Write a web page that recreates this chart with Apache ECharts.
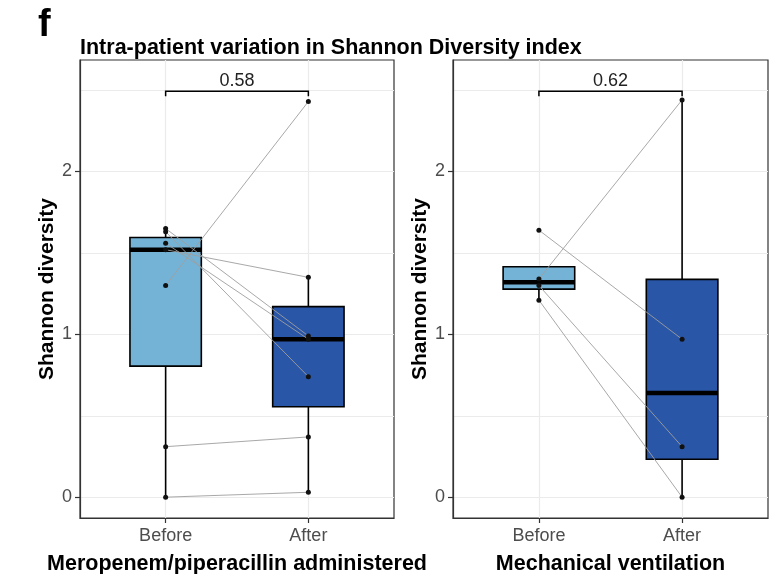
<!DOCTYPE html>
<html>
<head>
<meta charset="utf-8">
<script src="https://cdn.jsdelivr.net/npm/echarts@6.0.0/dist/echarts.min.js"></script>
<style>
  html, body { margin: 0; padding: 0; background: #fff; }
  #chart { width: 780px; height: 574px; }
</style>
</head>
<body>
<div id="chart"></div>
<script>
// data
var groups = ['Before', 'After'];
var panelTitles = ['Meropenem/piperacillin administered', 'Mechanical ventilation'];
var pValues = ['0.58', '0.62'];
var yTicks = [0, 1, 2];
var gridTicks = [0, 0.5, 1, 1.5, 2, 2.5];

// paired samples, same order = same patient
var meroBefore = [1.65, 1.63, 1.56, 1.52, 1.30, 0.31, 0.00];
var meroAfter  = [0.99, 0.74, 0.97, 1.35, 2.43, 0.37, 0.03];
var ventBefore = [1.64, 1.34, 1.30, 1.21];
var ventAfter  = [0.97, 2.44, 0.31, 0.00];

var FONT = '"Liberation Sans", Arial, sans-serif';
var boxColors = ['#74b3d6', '#2a56a8'];

// quantile like R type 7
function quant(sorted, p) {
    var h = (sorted.length - 1) * p;
    var lo = Math.floor(h);
    var hi = Math.ceil(h);
    return sorted[lo] + (h - lo) * (sorted[hi] - sorted[lo]);
}

// [x, lowWhisker, q1, median, q3, highWhisker] like geom_boxplot
function boxStats(values, x) {
    var s = values.slice().sort(function (a, b) { return a - b; });
    var q1 = quant(s, 0.25), med = quant(s, 0.5), q3 = quant(s, 0.75);
    var iqr = q3 - q1;
    var inside = s.filter(function (v) { return v >= q1 - 1.5 * iqr && v <= q3 + 1.5 * iqr; });
    return [x, inside[0], q1, med, q3, inside[inside.length - 1]];
}

var panels = [
    { before: meroBefore, after: meroAfter },
    { before: ventBefore, after: ventAfter }
];

var gridPos = [
    { left: 80, top: 60, width: 314, height: 458 },
    { left: 453, top: 60, width: 315, height: 458 }
];

var chart = echarts.init(document.getElementById('chart'));

var grids = [], xAxes = [], yAxes = [], series = [];

panels.forEach(function (p, i) {
    grids.push({
        left: gridPos[i].left, top: gridPos[i].top,
        width: gridPos[i].width, height: gridPos[i].height,
        containLabel: false,
        outerBoundsMode: 'none',
        show: true, borderColor: '#333', borderWidth: 1.2, backgroundColor: '#fff'
    });
    xAxes.push({
        gridIndex: i,
        type: 'value',
        min: -0.6, max: 1.6,
        splitLine: { show: false },
        axisLine: { show: true, onZero: false, lineStyle: { color: '#333', width: 1.2 } },
        axisTick: { show: true, customValues: [0, 1], length: 5, lineStyle: { color: '#333', width: 1.2 } },
        axisLabel: {
            customValues: [0, 1],
            formatter: function (v) { return groups[Math.round(v)]; },
            color: '#4d4d4d', fontSize: 18, fontFamily: FONT, margin: 9
        },
        name: panelTitles[i],
        nameLocation: 'middle',
        nameGap: 35,
        nameTextStyle: { color: '#000', fontSize: 21.5, fontWeight: 'bold', fontFamily: FONT }
    });
    yAxes.push({
        gridIndex: i,
        type: 'value',
        min: -0.128, max: 2.685,
        splitLine: { show: false },
        axisLine: { show: true, onZero: false, lineStyle: { color: '#333', width: 1.2 } },
        axisTick: { show: true, customValues: yTicks, length: 5, lineStyle: { color: '#333', width: 1.2 } },
        axisLabel: {
            customValues: yTicks,
            color: '#4d4d4d', fontSize: 18, fontFamily: FONT, margin: 8
        },
        name: 'Shannon diversity',
        nameLocation: 'middle',
        nameGap: 22,
        nameTextStyle: { color: '#000', fontSize: 21, fontWeight: 'bold', fontFamily: FONT }
    });

    // boxes
    series.push({
        type: 'custom',
        xAxisIndex: i, yAxisIndex: i,
        z: 2,
        data: [boxStats(p.before, 0), boxStats(p.after, 1)],
        markLine: {
            silent: true, symbol: 'none', z: 0,
            label: { show: false },
            lineStyle: { color: '#ebebeb', type: 'solid', width: 1.2 },
            data: gridTicks.map(function (v) { return { yAxis: v }; })
                .concat([{ xAxis: 0 }, { xAxis: 1 }])
        },
        renderItem: function (params, api) {
            var x = api.value(0);
            var lo = api.coord([x, api.value(1)]);
            var q1 = api.coord([x, api.value(2)]);
            var md = api.coord([x, api.value(3)]);
            var q3 = api.coord([x, api.value(4)]);
            var hi = api.coord([x, api.value(5)]);
            var half = api.size([0.5, 0])[0] / 2;
            var cx = q1[0];
            return {
                type: 'group',
                children: [
                    { type: 'line', shape: { x1: cx, y1: lo[1], x2: cx, y2: q1[1] },
                      style: { stroke: '#000', lineWidth: 1.6 } },
                    { type: 'line', shape: { x1: cx, y1: q3[1], x2: cx, y2: hi[1] },
                      style: { stroke: '#000', lineWidth: 1.6 } },
                    { type: 'rect', shape: { x: cx - half, y: q3[1], width: half * 2, height: q1[1] - q3[1] },
                      style: { fill: boxColors[params.dataIndex], stroke: '#000', lineWidth: 1.6 } },
                    { type: 'line', shape: { x1: cx - half, y1: md[1], x2: cx + half, y2: md[1] },
                      style: { stroke: '#000', lineWidth: 4.5 } }
                ]
            };
        }
    });

    // patient lines
    series.push({
        type: 'custom',
        xAxisIndex: i, yAxisIndex: i,
        z: 3,
        silent: true,
        data: p.before.map(function (b, k) { return [b, p.after[k]]; }),
        renderItem: function (params, api) {
            var a = api.coord([0, api.value(0)]);
            var b = api.coord([1, api.value(1)]);
            return { type: 'line', shape: { x1: a[0], y1: a[1], x2: b[0], y2: b[1] },
                     style: { stroke: '#9e9e9e', lineWidth: 0.9 } };
        }
    });

    // points
    series.push({
        type: 'scatter',
        xAxisIndex: i, yAxisIndex: i,
        z: 4,
        symbolSize: 5,
        itemStyle: { color: '#111', opacity: 1 },
        data: p.before.map(function (v) { return [0, v]; })
            .concat(p.after.map(function (v) { return [1, v]; }))
    });

    // significance bracket
    series.push({
        type: 'custom',
        xAxisIndex: i, yAxisIndex: i,
        z: 4,
        silent: true,
        data: [[0, 1]],
        renderItem: function (params, api) {
            var top = 2.493, tip = 2.462;
            var a = api.coord([api.value(0), tip]);
            var b = api.coord([api.value(0), top]);
            var c = api.coord([api.value(1), top]);
            var d = api.coord([api.value(1), tip]);
            return {
                type: 'group',
                children: [
                    { type: 'polyline', shape: { points: [a, b, c, d] },
                      style: { stroke: '#000', lineWidth: 1.5, fill: null } },
                    { type: 'text', x: (b[0] + c[0]) / 2, y: b[1] - 1,
                      style: { text: pValues[i], fill: '#222', font: '18px ' + FONT,
                               textAlign: 'center', textVerticalAlign: 'bottom' } }
                ]
            };
        }
    });
});

chart.setOption({
    backgroundColor: '#fff',
    animation: false,
    title: [
        { text: 'f', left: 33, top: 2,
          textStyle: { fontSize: 38, fontWeight: 'bold', color: '#000', fontFamily: FONT } },
        { text: 'Intra-patient variation in Shannon Diversity index', left: 75, top: 32,
          textStyle: { fontSize: 21.5, fontWeight: 'bold', color: '#000', fontFamily: FONT } }
    ],
    grid: grids,
    xAxis: xAxes,
    yAxis: yAxes,
    series: series
});
</script>
</body>
</html>
